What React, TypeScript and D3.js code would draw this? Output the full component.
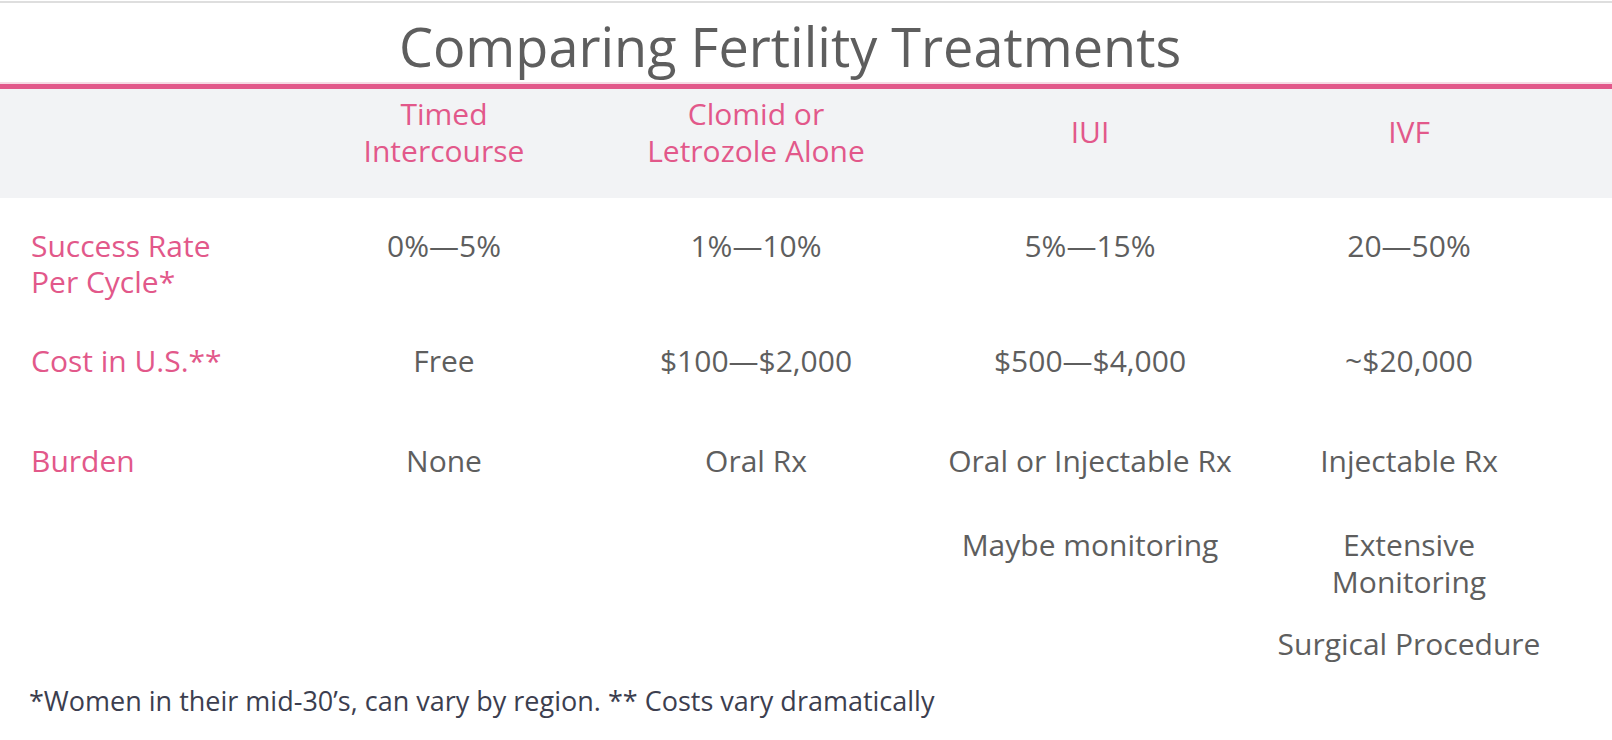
import React from "react";
import * as d3 from "d3";

// ---- data ----
const title = "Comparing Fertility Treatments";
const treatments = ["Timed Intercourse", "Clomid or Letrozole Alone", "IUI", "IVF"];
const treatmentLines = [["Timed", "Intercourse"], ["Clomid or", "Letrozole Alone"], ["IUI"], ["IVF"]];
const rowLabels = [["Success Rate", "Per Cycle*"], ["Cost in U.S.**"], ["Burden"]];
const successRates = ["0%\u20145%", "1%\u201410%", "5%\u201415%", "20\u201450%"];
const costs = ["Free", "$100\u2014$2,000", "$500\u2014$4,000", "~$20,000"];
const burdens = [
  [["None"]],
  [["Oral Rx"]],
  [["Oral or Injectable Rx"], ["Maybe monitoring"]],
  [["Injectable Rx"], ["Extensive", "Monitoring"], ["Surgical Procedure"]],
];
const footnote = "*Women in their mid-30\u2019s, can vary by region. ** Costs vary dramatically";

// ---- layout ----
const W = 1612;
const H = 740;
const colCenters = [444, 756, 1090, 1409];
const rowBaselines = [257, 372, 472];
const burdenOffsets = [0, 84, 183];
const lineH = 37;
const PINK = "#e2588a";
const GRAY = "#5e5e5e";
const FONT = "'Open Sans', 'Noto Sans', sans-serif";

export default function App() {
  const x = d3.scaleOrdinal<string, number>().domain(treatments).range(colCenters);
  const headerMid = 143;

  return (
    <svg
      width={W}
      height={H}
      style={{ position: "absolute", left: 0, top: 0, background: "#fff" }}
      fontFamily={FONT}
    >
      <rect x={0} y={0} width={W} height={H} fill="#fff" />
      <rect x={0} y={1} width={W} height={2} fill="#dedede" />
      <text x={790} y={67} textAnchor="middle" fontSize={54} fill={GRAY}>
        {title}
      </text>
      <rect x={0} y={82} width={W} height={2} fill="#f6dbe5" />
      <rect x={0} y={84} width={W} height={5} fill={PINK} />
      <rect x={0} y={89} width={W} height={109} fill="#f2f3f5" />

      {treatments.map((t, i) => {
        const lines = treatmentLines[i];
        const y0 = headerMid - ((lines.length - 1) * lineH) / 2;
        return (
          <text key={t} textAnchor="middle" fontSize={30} fill={PINK}>
            {lines.map((l, j) => (
              <tspan key={j} x={x(t)} y={y0 + j * lineH}>
                {l}
              </tspan>
            ))}
          </text>
        );
      })}

      {rowLabels.map((lines, r) => (
        <text key={r} fontSize={30} fill={PINK}>
          {lines.map((l, j) => (
            <tspan key={j} x={31} y={rowBaselines[r] + j * 36}>
              {l}
            </tspan>
          ))}
        </text>
      ))}

      {treatments.map((t, i) => (
        <text key={"s" + t} x={x(t)} y={rowBaselines[0]} textAnchor="middle" fontSize={30} fill={GRAY}>
          {successRates[i]}
        </text>
      ))}
      {treatments.map((t, i) => (
        <text key={"c" + t} x={x(t)} y={rowBaselines[1]} textAnchor="middle" fontSize={30} fill={GRAY}>
          {costs[i]}
        </text>
      ))}
      {treatments.map((t, i) =>
        burdens[i].map((item, k) => (
          <text key={"b" + t + k} textAnchor="middle" fontSize={30} fill={GRAY}>
            {item.map((l, j) => (
              <tspan key={j} x={x(t)} y={rowBaselines[2] + burdenOffsets[k] + j * lineH}>
                {l}
              </tspan>
            ))}
          </text>
        ))
      )}

      <text x={29} y={711} fontSize={27} fill="#3c3e4f">
        {footnote}
      </text>
    </svg>
  );
}
